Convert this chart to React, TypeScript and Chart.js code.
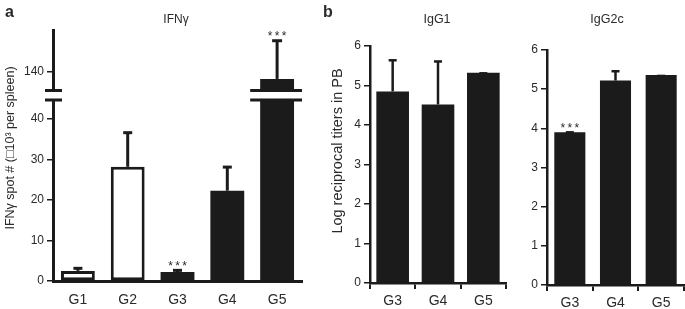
import React, { useEffect, useRef } from 'react';
import { Chart, registerables } from 'chart.js';

Chart.register(...registerables);

const FONT = "'Liberation Sans', Arial, Helvetica, sans-serif";
const INK = '#1b1b1b';
const TXT = '#2a2a2a';

// ---------- data ----------
const groupsA = ['G1', 'G2', 'G3', 'G4', 'G5'];
const ifnMean = [2.5, 28.2, 2.2, 22.3, 132];
const ifnErr = [1.0, 8.8, 0.8, 6.2, 43];
const ifnStars = ['', '', '***', '', '***'];
const openGroups = ['G1', 'G2'];
const ifnLowerTicks = [0, 10, 20, 30, 40];
const ifnUpperTicks = [140];

const groupsB = ['G3', 'G4', 'G5'];
const igg1Mean = [4.85, 4.52, 5.32];
const igg1Err = [0.82, 1.12, 0.02];
const igg1Stars = ['', '', ''];
const igg2cMean = [3.9, 5.22, 5.36];
const igg2cErr = [0.03, 0.27, 0.01];
const igg2cStars = ['***', '', ''];
const titerTicks = [0, 1, 2, 3, 4, 5, 6];

type TextItem = { text: string; x: number; y: number; font: string; align?: CanvasTextAlign; rotate?: boolean };

type Cfg = {
  left: number; top: number; w: number; h: number;
  area: { left: number; top: number; right: number; bottom: number };
  labels: string[]; values: number[]; errs: number[]; stars: string[];
  open: boolean[];
  yMin: number; yMax: number; yTicks: number[];
  showX: boolean; xTickMarks: boolean; xPad: number;
  barPct: number; axisLw: number; errW: number; capW: number; capH: number;
  texts: TextItem[];
  breakIndex?: number;
};

function makePlugin(cfg: Cfg) {
  return {
    id: 'extras',
    afterDatasetsDraw(chart: any) {
      const { ctx, chartArea: a } = chart;
      const ys = chart.scales.y;
      const meta = chart.getDatasetMeta(0);
      ctx.save();
      ctx.beginPath();
      ctx.rect(a.left, a.top - 1, a.right - a.left, a.bottom - a.top + 1);
      ctx.clip();
      ctx.strokeStyle = INK;
      ctx.lineCap = 'butt';
      meta.data.forEach((bar: any, i: number) => {
        const x = bar.x;
        const y0 = ys.getPixelForValue(cfg.values[i]);
        const y1 = ys.getPixelForValue(cfg.values[i] + cfg.errs[i]);
        ctx.lineWidth = cfg.errW;
        ctx.beginPath();
        ctx.moveTo(x, y0);
        ctx.lineTo(x, y1 + cfg.capH / 2);
        ctx.stroke();
        ctx.lineWidth = cfg.capH;
        ctx.beginPath();
        ctx.moveTo(x - cfg.capW / 2, y1 + cfg.capH / 2);
        ctx.lineTo(x + cfg.capW / 2, y1 + cfg.capH / 2);
        ctx.stroke();
      });
      ctx.restore();

      ctx.save();
      ctx.fillStyle = TXT;
      ctx.font = `12px ${FONT}`;
      ctx.textAlign = 'center';
      ctx.textBaseline = 'alphabetic';
      meta.data.forEach((bar: any, i: number) => {
        const s = cfg.stars[i];
        if (!s) return;
        const top = cfg.values[i] + cfg.errs[i];
        if (top < ys.min || top > ys.max) return;
        const y = ys.getPixelForValue(top);
        const chars = [...s];
        chars.forEach((c, k) => {
          ctx.fillText(c, bar.x + (k - (chars.length - 1) / 2) * 7, y + 1);
        });
      });
      ctx.restore();
    },
    afterDraw(chart: any) {
      const { ctx, chartArea: a } = chart;
      ctx.save();
      if (cfg.breakIndex !== undefined) {
        const meta = chart.getDatasetMeta(0);
        const bar: any = meta.data[cfg.breakIndex];
        ctx.strokeStyle = INK;
        ctx.lineWidth = 3;
        const ys = [a.top - 9.5, a.top];
        ys.forEach((yy) => {
          ctx.beginPath();
          ctx.moveTo(a.left - 8, yy);
          ctx.lineTo(a.left + 9, yy);
          ctx.stroke();
          ctx.beginPath();
          ctx.moveTo(bar.x - bar.width / 2 - 10, yy);
          ctx.lineTo(bar.x + bar.width / 2 + 8, yy);
          ctx.stroke();
        });
      }
      ctx.fillStyle = TXT;
      cfg.texts.forEach((t) => {
        ctx.save();
        ctx.font = t.font;
        if (t.rotate) {
          ctx.translate(t.x, t.y);
          ctx.rotate(-Math.PI / 2);
          ctx.textAlign = 'center';
          ctx.textBaseline = 'middle';
          ctx.fillText(t.text, 0, 0);
        } else {
          ctx.textAlign = t.align || 'center';
          ctx.textBaseline = 'alphabetic';
          ctx.fillText(t.text, t.x, t.y);
        }
        ctx.restore();
      });
      ctx.restore();
    },
  };
}

function BarPanel({ cfg }: { cfg: Cfg }) {
  const ref = useRef<HTMLCanvasElement | null>(null);
  useEffect(() => {
    if (!ref.current) return;
    const chart = new Chart(ref.current, {
      type: 'bar',
      data: {
        labels: cfg.labels,
        datasets: [
          {
            data: cfg.values,
            backgroundColor: cfg.open.map((o) => (o ? '#ffffff' : INK)),
            borderColor: INK,
            borderWidth: cfg.open.map((o) => (o ? 3 : 0)),
            borderSkipped: false,
            barPercentage: cfg.barPct,
            categoryPercentage: 1,
          },
        ],
      },
      options: {
        responsive: false,
        animation: false,
        devicePixelRatio: 1,
        layout: {
          padding: {
            left: 0,
            top: cfg.area.top,
            right: cfg.w - cfg.area.right,
            bottom: cfg.showX ? 0 : cfg.h - cfg.area.bottom,
          },
        },
        plugins: { legend: { display: false }, tooltip: { enabled: false }, title: { display: false } },
        scales: {
          x: {
            display: cfg.showX,
            offset: true,
            grid: {
              display: cfg.xTickMarks,
              drawOnChartArea: false,
              drawTicks: cfg.xTickMarks,
              tickLength: 6,
              lineWidth: 2,
              color: INK,
              offset: true,
            },
            border: { display: true, width: cfg.axisLw, color: INK },
            ticks: { font: { family: FONT, size: 14 }, color: TXT, padding: cfg.xPad, maxRotation: 0 },
            afterFit: (s: any) => {
              if (cfg.showX) s.height = cfg.h - cfg.area.bottom;
            },
          },
          y: {
            min: cfg.yMin,
            max: cfg.yMax,
            grid: {
              display: true,
              drawOnChartArea: false,
              drawTicks: true,
              tickLength: 6,
              lineWidth: 1.5,
              color: INK,
            },
            border: { display: true, width: cfg.axisLw, color: INK },
            ticks: { font: { family: FONT, size: 12 }, color: TXT, padding: 3 },
            afterBuildTicks: (s: any) => {
              s.ticks = cfg.yTicks.map((v) => ({ value: v }));
            },
            afterFit: (s: any) => {
              s.width = cfg.area.left;
            },
          },
        },
      },
      plugins: [makePlugin(cfg) as any],
    });
    return () => chart.destroy();
  }, [cfg]);
  return (
    <canvas
      ref={ref}
      width={cfg.w}
      height={cfg.h}
      style={{ position: 'absolute', left: cfg.left, top: cfg.top, width: cfg.w, height: cfg.h }}
    />
  );
}

const openA = groupsA.map((g) => openGroups.includes(g));

const cfgALower: Cfg = {
  left: 0, top: 0, w: 310, h: 309,
  area: { left: 53, top: 100, right: 302, bottom: 281 },
  labels: groupsA, values: ifnMean, errs: ifnErr, stars: ifnStars, open: openA,
  yMin: 0, yMax: 44.7, yTicks: ifnLowerTicks,
  showX: true, xTickMarks: false, xPad: 11,
  barPct: 0.68, axisLw: 3, errW: 3, capW: 9, capH: 3,
  breakIndex: 4,
  texts: [
    { text: 'a', x: 5, y: 17, font: `bold 16px ${FONT}`, align: 'left' },
    { text: 'IFNγ', x: 176, y: 23, font: `12px ${FONT}` },
    { text: 'IFNγ spot # (□10³ per spleen)', x: 11, y: 148, font: `12.5px ${FONT}`, rotate: true },
  ],
};

const cfgAUpper: Cfg = {
  left: 0, top: 0, w: 310, h: 106,
  area: { left: 53, top: 30, right: 302, bottom: 90 },
  labels: groupsA, values: ifnMean, errs: ifnErr, stars: ifnStars, open: openA,
  yMin: 120, yMax: 185, yTicks: ifnUpperTicks,
  showX: false, xTickMarks: false, xPad: 8,
  barPct: 0.68, axisLw: 3, errW: 3, capW: 10, capH: 3,
  texts: [],
};

const cfgIgG1: Cfg = {
  left: 310, top: 0, w: 200, h: 309,
  area: { left: 60, top: 46, right: 196, bottom: 283 },
  labels: groupsB, values: igg1Mean, errs: igg1Err, stars: igg1Stars, open: [false, false, false],
  yMin: 0, yMax: 6, yTicks: titerTicks,
  showX: true, xTickMarks: true, xPad: 4,
  barPct: 0.72, axisLw: 2.5, errW: 2.5, capW: 8, capH: 2.5,
  texts: [
    { text: 'b', x: 13, y: 17, font: `bold 16px ${FONT}`, align: 'left' },
    { text: 'IgG1', x: 127, y: 23, font: `12.5px ${FONT}` },
    { text: 'Log reciprocal titers in PB', x: 28, y: 151, font: `14.5px ${FONT}`, rotate: true },
  ],
};

const cfgIgG2c: Cfg = {
  left: 510, top: 0, w: 175, h: 309,
  area: { left: 37, top: 50, right: 174, bottom: 285 },
  labels: groupsB, values: igg2cMean, errs: igg2cErr, stars: igg2cStars, open: [false, false, false],
  yMin: 0, yMax: 6, yTicks: titerTicks,
  showX: true, xTickMarks: true, xPad: 4,
  barPct: 0.68, axisLw: 2.5, errW: 2.5, capW: 8, capH: 2.5,
  texts: [{ text: 'IgG2c', x: 97, y: 23, font: `12.5px ${FONT}` }],
};

export default function App() {
  return (
    <div style={{ position: 'relative', width: 685, height: 309, background: '#fff', overflow: 'hidden' }}>
      <style>{`body{margin:0;background:#fff;}`}</style>
      <BarPanel cfg={cfgALower} />
      <BarPanel cfg={cfgAUpper} />
      <BarPanel cfg={cfgIgG1} />
      <BarPanel cfg={cfgIgG2c} />
    </div>
  );
}
